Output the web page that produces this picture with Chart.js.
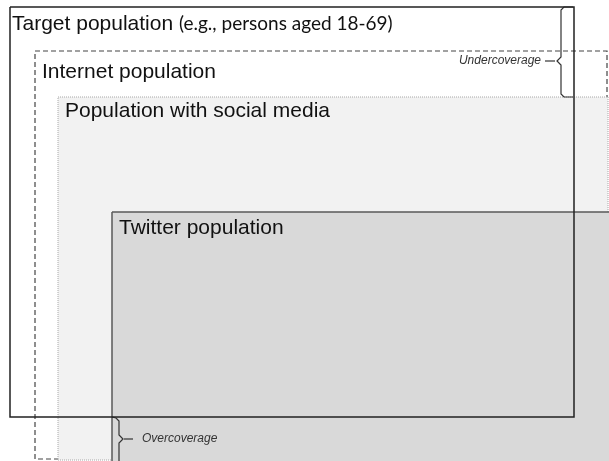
<!DOCTYPE html>
<html>
<head>
<meta charset="utf-8">
<title>Coverage of the Twitter population</title>
<script src="https://cdn.jsdelivr.net/npm/chart.js@4.4.1/dist/chart.umd.min.js"></script>
<style>
  html, body { margin: 0; padding: 0; background: #fff; overflow: hidden; }
</style>
</head>
<body>
<canvas id="diagram" width="609" height="461"></canvas>
<script>
// boxes in diagram units: [left, top, right, bottom]
const targetBox = [10, 7, 574, 417];
const internetBox = [35, 51, 607, 459];
const socialBox = [58, 97, 608, 460];
const twitterBox = [112, 212, 620, 470];

// braces, as [x, y] points
const underBrace = [[573, 7], [564, 7], [561, 10], [561, 57], [557, 61], [561, 65], [561, 94], [564, 97], [573, 97]];
const underTick = [[545, 61], [555, 61]];
const overBrace = [[112, 417], [116, 418], [119, 421], [119, 435], [123, 439], [119, 443], [119, 461]];
const overTick = [[124, 439], [133, 439]];

// text
const boxLabels = ['Target population', 'Internet population', 'Population with social media', 'Twitter population'];
const boxLabelX = [12, 42, 65, 119];
const boxLabelY = [30, 78, 117, 234];
const targetNote = '(e.g., persons aged 18-69)';
const coverageLabels = ['Undercoverage', 'Overcoverage'];
const coverageX = [541, 142];
const coverageY = [61, 439];

const outline = b => [
    {x: b[0], y: b[1]}, {x: b[2], y: b[1]}, {x: b[2], y: b[3]},
    {x: b[0], y: b[3]}, {x: b[0], y: b[1]}
];
const topEdge = b => [{x: b[0], y: b[1]}, {x: b[2], y: b[1]}];
const pts = arr => arr.map(p => ({x: p[0], y: p[1]}));

function lineSet(data, color, width, dash, order) {
    return {
        data: data,
        showLine: true,
        borderColor: color,
        borderWidth: width,
        borderDash: dash,
        pointRadius: 0,
        tension: 0,
        fill: false,
        order: order
    };
}

function fillSet(box, color, order) {
    return {
        data: topEdge(box),
        showLine: true,
        borderWidth: 0,
        borderColor: 'rgba(0,0,0,0)',
        backgroundColor: color,
        pointRadius: 0,
        fill: {target: {value: box[3]}},
        order: order
    };
}

const labelPlugin = {
    id: 'boxLabels',
    afterDatasetsDraw(chart) {
        const {ctx, scales: {x, y}} = chart;
        ctx.save();
        ctx.textBaseline = 'alphabetic';
        ctx.fillStyle = '#111';
        ctx.font = '21px "Liberation Sans", Arial, sans-serif';
        boxLabels.forEach((t, i) => {
            ctx.fillText(t, x.getPixelForValue(boxLabelX[i]), y.getPixelForValue(boxLabelY[i]));
        });
        // note after the target label
        const w = ctx.measureText(boxLabels[0] + ' ').width;
        ctx.font = '19px Lato, "Open Sans", sans-serif';
        ctx.fillText(targetNote, x.getPixelForValue(boxLabelX[0]) + w, y.getPixelForValue(boxLabelY[0]));

        ctx.font = 'italic 12px "Liberation Sans", Arial, sans-serif';
        ctx.fillStyle = '#333';
        ctx.textBaseline = 'middle';
        ctx.textAlign = 'right';
        ctx.fillText(coverageLabels[0], x.getPixelForValue(coverageX[0]), y.getPixelForValue(coverageY[0]));
        ctx.textAlign = 'left';
        ctx.fillText(coverageLabels[1], x.getPixelForValue(coverageX[1]), y.getPixelForValue(coverageY[1]));
        ctx.restore();
    }
};

const ctx = document.getElementById('diagram').getContext('2d');
new Chart(ctx, {
    type: 'scatter',
    data: {
        datasets: [
            lineSet(outline(internetBox), '#444', 1.2, [5, 3], 9),
            fillSet(socialBox, '#f2f2f2', 8),
            lineSet(outline(socialBox), '#a8a8a8', 1, [1, 1], 7),
            fillSet(twitterBox, '#d9d9d9', 6),
            lineSet(outline(twitterBox), '#5a5a5a', 1.5, [], 5),
            lineSet(pts(underBrace), '#333', 1.2, [], 4),
            lineSet(pts(underTick), '#333', 1.2, [], 3),
            lineSet(pts(overBrace), '#333', 1.2, [], 2),
            lineSet(pts(overTick), '#333', 1.2, [], 1),
            lineSet(outline(targetBox), '#222', 1.5, [], 0)
        ]
    },
    options: {
        responsive: false,
        animation: false,
        devicePixelRatio: 1,
        layout: {padding: 0},
        scales: {
            x: {type: 'linear', min: 0, max: 609, display: false},
            y: {type: 'linear', min: 0, max: 461, reverse: true, display: false}
        },
        plugins: {
            legend: {display: false},
            tooltip: {enabled: false}
        }
    },
    plugins: [labelPlugin]
});
</script>
</body>
</html>
